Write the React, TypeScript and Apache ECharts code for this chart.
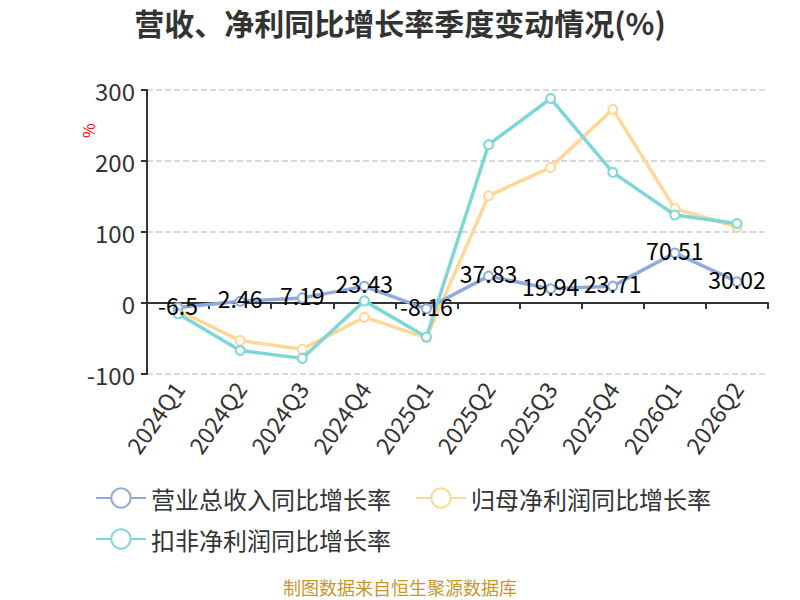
import React, { useEffect, useRef } from "react";
import * as echarts from "echarts";

const categories = ["2024Q1", "2024Q2", "2024Q3", "2024Q4", "2025Q1", "2025Q2", "2025Q3", "2025Q4", "2026Q1", "2026Q2"];
const seriesNames = ["营业总收入同比增长率", "归母净利润同比增长率", "扣非净利润同比增长率"];
const revenueGrowth = [-6.5, 2.46, 7.19, 23.43, -8.16, 37.83, 19.94, 23.71, 70.51, 30.02];
const netProfitGrowth = [-10, -53, -65, -20, -49, 151, 191, 273, 133, 107];
const deductedProfitGrowth = [-15, -67, -78, 3, -48, 223, 288, 184, 124, 112];
const colors = ["#8FAADC", "#FFD897", "#7FD6D6"];
const yMin = -100;
const yMax = 300;
const yInterval = 100;

const FONT = "Noto Sans CJK SC";

export default function App() {
  const ref = useRef<HTMLDivElement>(null);
  useEffect(() => {
    document.body.style.margin = "0";
    if (!ref.current) return;
    const chart = echarts.init(ref.current, null, { renderer: "svg" });
    const legendCommon = {
      left: 90,
      itemWidth: 50,
      itemHeight: 24,
      itemGap: 24,
      textStyle: { fontSize: 24, color: "#333", fontFamily: FONT },
    };
    const dataSets = [revenueGrowth, netProfitGrowth, deductedProfitGrowth];
    chart.setOption({
      animation: false,
      textStyle: { fontFamily: FONT },
      title: {
        text: "营收、净利同比增长率季度变动情况(%)",
        left: "center",
        top: 2,
        textStyle: { fontSize: 30, fontWeight: "bold", color: "#333", fontFamily: FONT },
      },
      legend: [
        { ...legendCommon, top: 481, data: [seriesNames[0], seriesNames[1]] },
        { ...legendCommon, top: 522, data: [seriesNames[2]] },
      ],
      grid: { left: 147, right: 32, top: 90, bottom: 226, containLabel: false },
      xAxis: [
        {
          type: "category",
          data: categories,
          boundaryGap: true,
          axisLine: { onZero: true, lineStyle: { color: "#333", width: 2 } },
          axisTick: { show: true, length: 6, lineStyle: { color: "#333", width: 2 } },
          axisLabel: { show: false },
          splitLine: { show: false },
        },
        {
          type: "category",
          data: categories,
          position: "bottom",
          boundaryGap: true,
          axisLine: { show: false, onZero: false },
          axisTick: { show: false },
          axisLabel: { rotate: 55, fontSize: 23, color: "#333", margin: 10, fontFamily: FONT },
          splitLine: { show: false },
        },
      ],
      yAxis: {
        type: "value",
        min: yMin,
        max: yMax,
        interval: yInterval,
        axisLine: { show: true, lineStyle: { color: "#333", width: 2 } },
        axisTick: { show: true, length: 6, lineStyle: { color: "#333", width: 2 } },
        axisLabel: { fontSize: 24, color: "#333", margin: 12, fontFamily: FONT },
        splitLine: { show: true, lineStyle: { type: "dashed", color: "#ccc", width: 1.5 } },
      },
      series: dataSets.map((d, i) => ({
        name: seriesNames[i],
        type: "line",
        data: d,
        xAxisIndex: 0,
        symbol: "emptyCircle",
        symbolSize: 9,
        lineStyle: { width: 3.5, color: colors[i] },
        itemStyle: { color: colors[i], borderWidth: 2 },
        label:
          i === 0
            ? { show: true, position: "inside", offset: [0, -3], fontSize: 23, color: "#000", fontFamily: FONT }
            : { show: false },
        z: i === 0 ? 4 : 2 + i,
      })),
      graphic: [
        {
          type: "text",
          x: 80,
          y: 138,
          rotation: Math.PI / 2,
          style: { text: "%", fontSize: 16, fill: "#ff0000", fontFamily: FONT },
        },
        {
          type: "text",
          left: "center",
          top: 578,
          style: { text: "制图数据来自恒生聚源数据库", fontSize: 18, fill: "#C8962D", fontFamily: FONT },
        },
      ],
    });
    return () => chart.dispose();
  }, []);
  return <div ref={ref} style={{ width: 800, height: 600 }} />;
}
